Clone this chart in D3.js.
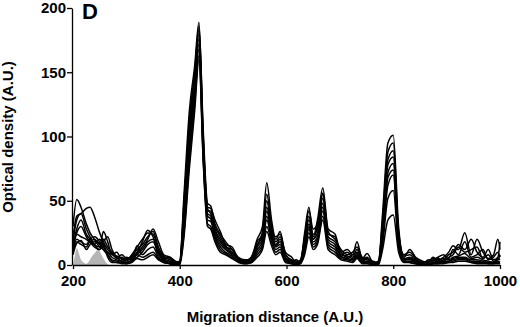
<!DOCTYPE html>
<html>
<head>
<meta charset="utf-8">
<script src="https://cdn.jsdelivr.net/npm/d3@7"></script>
<style>
  body { margin: 0; background: #fff; }
  svg text { font-family: "Liberation Sans", Arial, sans-serif; font-weight: bold; fill: #000; }
</style>
</head>
<body>
<div id="chart"></div>
<script>
// posiciones de migración compartidas por todas las trazas
const xGrid = [200, 207, 215, 225, 232, 240, 250, 257, 265, 273,
  282, 292, 300, 310, 320, 330, 340, 350, 360, 370,
  382, 392, 400, 408, 418, 428, 436, 444, 452, 458,
  466, 476, 486, 498, 510, 522, 534, 545, 555, 563,
  572, 580, 588, 598, 610, 618, 626, 634, 642, 650,
  658, 668, 678, 691, 702, 714, 724, 732, 742, 751,
  762, 772, 780, 790, 800, 810, 820, 831, 842, 855,
  866, 874, 884, 894, 904, 912, 922, 934, 946, 957,
  968, 978, 988, 996, 1000];

const traceA = [30, 51, 45, 32, 25, 20, 14, 12, 10, 8,
  6, 8, 5, 6, 10, 18, 27, 22, 10, 5,
  6, 2, 3, 55, 120, 155, 189, 100, 45, 44,
  35, 26, 16, 14, 5, 3, 6, 20, 30, 64,
  35, 20, 26, 8, 4, 3, 2, 25, 45, 22,
  35, 60, 28, 24, 10, 12, 8, 18, 5, 9,
  2, 1, 40, 95, 101, 30, 6, 12, 6, 3,
  2, 6, 4, 6, 10, 15, 12, 25, 8, 20,
  10, 5, 8, 20, 12];
const traceB = [22, 38, 40, 44, 45, 38, 25, 18, 12, 9,
  7, 5, 4, 8, 14, 20, 25, 24, 12, 6,
  4, 1, 2, 45, 112, 150, 186, 105, 48, 46,
  32, 24, 18, 12, 6, 4, 5, 15, 26, 55,
  30, 18, 22, 10, 6, 2, 3, 22, 42, 28,
  32, 56, 26, 20, 12, 8, 10, 14, 6, 5,
  3, 2, 35, 88, 95, 26, 8, 10, 5, 2,
  3, 5, 3, 4, 8, 10, 16, 12, 20, 10,
  6, 12, 4, 6, 18];
const traceC = [18, 35, 40, 28, 22, 16, 12, 20, 14, 10,
  5, 6, 3, 7, 12, 16, 22, 26, 14, 7,
  5, 2, 3, 50, 108, 148, 183, 98, 44, 40,
  30, 22, 15, 10, 5, 3, 4, 18, 24, 50,
  28, 22, 24, 8, 3, 2, 4, 20, 38, 20,
  30, 55, 24, 22, 8, 10, 6, 12, 4, 6,
  1, 3, 32, 82, 89, 24, 7, 8, 4, 2,
  2, 4, 6, 8, 5, 12, 8, 18, 6, 8,
  12, 4, 6, 10, 6];
const traceD = [15, 28, 35, 24, 20, 16, 14, 26, 18, 8,
  10, 4, 6, 4, 9, 14, 20, 28, 18, 8,
  6, 3, 2, 42, 100, 145, 180, 95, 42, 42,
  28, 20, 14, 12, 4, 2, 6, 16, 22, 45,
  26, 16, 20, 6, 2, 4, 2, 18, 35, 24,
  28, 52, 22, 18, 10, 6, 8, 10, 5, 4,
  2, 1, 28, 78, 84, 22, 5, 6, 3, 1,
  4, 3, 5, 3, 6, 8, 14, 10, 12, 14,
  5, 8, 3, 4, 8];
const traceE = [14, 25, 30, 22, 18, 14, 12, 18, 22, 12,
  6, 3, 4, 5, 8, 12, 18, 20, 10, 5,
  3, 1, 2, 38, 95, 140, 176, 92, 40, 38,
  26, 18, 13, 9, 5, 3, 3, 14, 20, 42,
  24, 15, 18, 5, 3, 1, 3, 16, 32, 20,
  25, 48, 20, 16, 8, 7, 5, 9, 3, 5,
  1, 2, 25, 72, 79, 20, 4, 5, 3, 2,
  1, 2, 3, 5, 4, 6, 7, 9, 5, 6,
  4, 3, 2, 5, 4];
const traceF = [14, 24, 22, 20, 18, 20, 16, 14, 10, 6,
  4, 3, 2, 4, 6, 10, 16, 18, 8, 4,
  2, 1, 1, 35, 90, 135, 172, 90, 38, 36,
  24, 16, 12, 8, 4, 2, 3, 12, 18, 38,
  22, 14, 16, 4, 2, 1, 2, 14, 30, 18,
  22, 45, 18, 14, 7, 5, 4, 8, 3, 3,
  1, 1, 22, 68, 74, 18, 4, 4, 2, 1,
  1, 2, 2, 3, 3, 5, 6, 6, 4, 4,
  3, 2, 2, 3, 2];
const traceG = [12, 20, 18, 16, 20, 22, 18, 12, 8, 4,
  3, 2, 2, 3, 15, 8, 12, 14, 6, 3,
  1, 1, 1, 30, 85, 130, 168, 85, 35, 34,
  22, 14, 10, 7, 3, 2, 2, 10, 16, 35,
  20, 12, 14, 3, 2, 1, 2, 12, 28, 16,
  20, 42, 16, 12, 6, 5, 4, 7, 2, 2,
  1, 1, 20, 62, 70, 16, 3, 3, 2, 1,
  1, 1, 2, 2, 3, 4, 5, 5, 3, 3,
  2, 2, 2, 2, 2];
const traceH = [10, 18, 16, 14, 18, 16, 20, 15, 8, 3,
  2, 2, 1, 2, 8, 6, 8, 10, 5, 2,
  1, 0, 1, 25, 80, 125, 163, 82, 32, 30,
  20, 12, 9, 6, 3, 1, 2, 8, 14, 30,
  18, 10, 12, 3, 1, 1, 1, 10, 25, 14,
  18, 38, 14, 10, 5, 4, 3, 6, 2, 2,
  0, 1, 16, 52, 58, 14, 3, 2, 1, 1,
  0, 1, 1, 2, 2, 3, 4, 4, 2, 2,
  2, 1, 1, 2, 1];
const traceI = [8, 17, 19, 12, 16, 18, 17, 16, 6, 2,
  2, 1, 1, 2, 5, 4, 6, 8, 4, 2,
  1, 0, 0, 22, 75, 120, 160, 80, 30, 28,
  18, 10, 8, 5, 2, 1, 2, 6, 12, 26,
  15, 8, 10, 2, 1, 0, 1, 8, 22, 12,
  16, 35, 12, 8, 4, 3, 2, 5, 1, 1,
  0, 0, 12, 35, 39, 10, 2, 2, 1, 0,
  0, 1, 1, 1, 2, 2, 3, 3, 2, 1,
  1, 1, 1, 1, 1];

const traces = [traceA, traceB, traceC, traceD, traceE, traceF, traceG, traceH, traceI];

// traza gris rellena (control)
const grayX = [200, 203, 207, 211, 215, 220, 225, 230, 236, 242, 247, 252, 257, 262, 267];
const grayY = [0, 6, 13, 9, 4, 2, 1, 3, 7, 10, 12, 9, 5, 2, 0];

const xTicks = [200, 400, 600, 800, 1000];
const yTicks = [0, 50, 100, 150, 200];

const width = 520, height = 327;
const svg = d3.select('#chart').append('svg')
  .attr('width', width)
  .attr('height', height);

const x = d3.scaleLinear().domain([200, 1000]).range([73, 500]);
const y = d3.scaleLinear().domain([0, 200]).range([265, 8]);

// relleno gris
const area = d3.area()
  .x((d, i) => x(grayX[i]))
  .y0(y(0))
  .y1(d => y(d))
  .curve(d3.curveMonotoneX);
svg.append('path')
  .attr('d', area(grayY))
  .attr('fill', '#b5b5b5');

// trazas densitométricas
const line = d3.line()
  .x((d, i) => x(xGrid[i]))
  .y(d => y(d))
  .curve(d3.curveMonotoneX);
svg.selectAll('path.trace')
  .data(traces)
  .enter().append('path')
  .attr('class', 'trace')
  .attr('d', d => line(d))
  .attr('fill', 'none')
  .attr('stroke', '#000')
  .attr('stroke-width', 1.5)
  .attr('stroke-linejoin', 'round');

// ejes
const xAxis = svg.append('g')
  .attr('transform', `translate(0,${y(0)})`)
  .call(d3.axisBottom(x).tickValues(xTicks).tickFormat(d3.format('d'))
    .tickSize(4).tickSizeOuter(0).tickPadding(6));
const yAxis = svg.append('g')
  .attr('transform', `translate(${x(200) - 1},0)`)
  .call(d3.axisLeft(y).tickValues(yTicks).tickSize(5).tickSizeOuter(0).tickPadding(1));

[xAxis, yAxis].forEach(g => {
  g.select('.domain').attr('stroke', '#000').attr('stroke-width', 1.3);
  g.selectAll('.tick line').attr('stroke', '#000').attr('stroke-width', 1.3);
  g.selectAll('.tick text')
    .style('font-size', '15px')
    .style('font-weight', 'bold')
    .style('font-family', '"Liberation Sans", Arial, sans-serif')
    .attr('fill', '#000');
});

svg.append('text')
  .attr('x', 275)
  .attr('y', 322)
  .attr('text-anchor', 'middle')
  .style('font-size', '15px')
  .text('Migration distance (A.U.)');

svg.append('text')
  .attr('transform', `translate(13,137) rotate(-90)`)
  .attr('text-anchor', 'middle')
  .style('font-size', '15px')
  .text('Optical density (A.U.)');

svg.append('text')
  .attr('x', 82)
  .attr('y', 19)
  .style('font-size', '22px')
  .text('D');
</script>
</body>
</html>
